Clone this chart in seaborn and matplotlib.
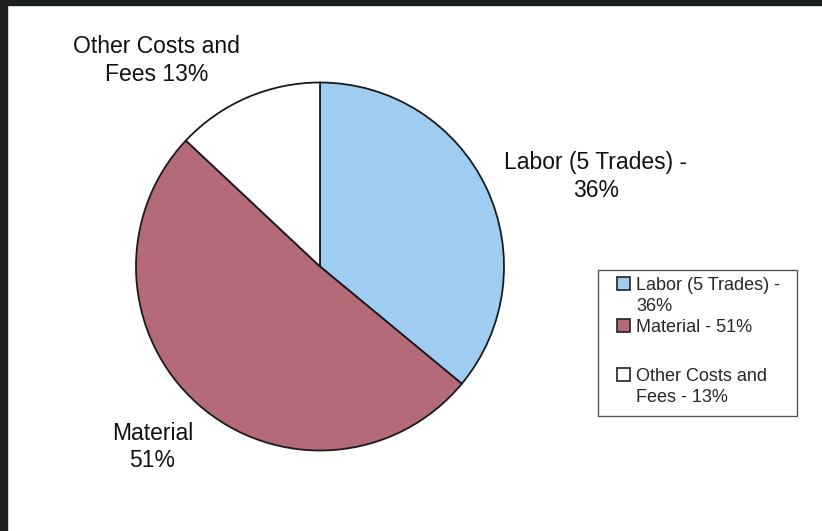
import matplotlib
matplotlib.use('Agg')
import matplotlib.pyplot as plt
from matplotlib.patches import Patch, Rectangle
import seaborn as sns

# dane
kategorie = ['Labor (5 Trades)', 'Material', 'Other Costs and Fees']
udzialy = [36, 51, 13]
etykiety = ['Labor (5 Trades) -\n36%', 'Material\n51%', 'Other Costs and\nFees 13%']
legenda = ['Labor (5 Trades) -', '36%', 'Material - 51%', ' ', 'Other Costs and', 'Fees - 13%']

kolory = ['#9fcdf1', '#b56a78', '#ffffff']
# pozycje etykiet (jednostki osi, promien = 1)
pozycje = [(1.50, 0.49), (-0.91, -0.98), (-0.89, 1.12)]

sns.set_theme(style='white')
plt.rcParams['font.family'] = ['Liberation Sans', 'DejaVu Sans']

W, H = 822, 531
fig = plt.figure(figsize=(W / 100, H / 100), dpi=100)
fig.patch.set_facecolor('white')

# ciemna ramka zrzutu ekranu (lewa i gorna krawedz)
fig.patches.append(Rectangle((0, 0), 7 / W, 1, transform=fig.transFigure,
                             color='#1b201d', zorder=10))
fig.patches.append(Rectangle((0, 1 - 5 / H), 1, 5 / H, transform=fig.transFigure,
                             color='#1b201d', zorder=10))

# os kolowa: srodek (320, 266.5) px, promien 184 px
r, cx, cy = 184, 320, 266.5
ax = fig.add_axes([(cx - 1.1 * r) / W, (H - cy - 1.1 * r) / H, 2.2 * r / W, 2.2 * r / H])
wedges, _ = ax.pie(udzialy, colors=kolory, startangle=90, counterclock=False,
                   wedgeprops=dict(edgecolor='#1a1a1a', linewidth=1.3))
ax.set_aspect('auto')
ax.set_xlim(-1.1, 1.1)
ax.set_ylim(-1.1, 1.1)
ax.axis('off')

for tekst, (x, y) in zip(etykiety, pozycje):
    ax.text(x, y, tekst, ha='center', va='center', multialignment='center',
            fontsize=16.5, color='#111111', linespacing=1.25, clip_on=False)

# ramka legendy
fig.patches.append(Rectangle((598 / W, 1 - 416 / H), 199 / W, 146 / H, transform=fig.transFigure,
                             facecolor='white', edgecolor='#555555', linewidth=1.0, zorder=1))

# legenda - uchwyt przy pierwszej linii etykiety
pusty = Patch(facecolor='none', edgecolor='none')
uchwyty = [Patch(facecolor=kolory[0], edgecolor='#222222', linewidth=1.2), pusty,
           Patch(facecolor=kolory[1], edgecolor='#222222', linewidth=1.2), pusty,
           Patch(facecolor=kolory[2], edgecolor='#222222', linewidth=1.2), pusty]
leg = fig.legend(uchwyty, legenda, loc='upper left',
                 bbox_to_anchor=(617 / W, 1 - 277 / H), bbox_transform=fig.transFigure,
                 borderaxespad=0, borderpad=0, fontsize=13, frameon=False,
                 handlelength=0.7, handleheight=0.7, handletextpad=0.35, labelspacing=0.22)
# wieksza przerwa po "Material"
leg.get_texts()[3].set_fontsize(19)

fig.savefig('out.png', dpi=100, facecolor='white')
